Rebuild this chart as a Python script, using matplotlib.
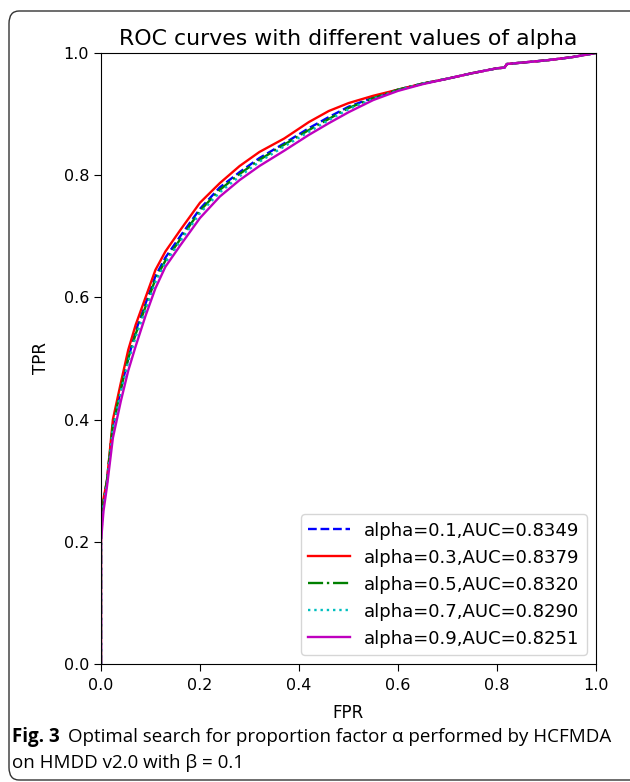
import matplotlib
matplotlib.use("Agg")
import matplotlib.pyplot as plt
from matplotlib.patches import FancyBboxPatch

# ---- data ----
fpr = [0, 0, 0.005, 0.012, 0.024, 0.04, 0.055, 0.07, 0.09, 0.11, 0.13, 0.16, 0.2, 0.24,
       0.28, 0.32, 0.37, 0.42, 0.46, 0.5, 0.55, 0.6, 0.65, 0.7, 0.75, 0.8, 0.815, 0.82,
       0.9, 0.95, 1.0]
tpr_a01 = [0, 0.22, 0.265, 0.30, 0.39, 0.45, 0.50, 0.545, 0.59, 0.635, 0.665, 0.70, 0.745,
           0.78, 0.805, 0.828, 0.852, 0.877, 0.895, 0.912, 0.927, 0.94, 0.95, 0.958, 0.967,
           0.975, 0.976, 0.982, 0.988, 0.993, 1.0]
tpr_a03 = [0, 0.23, 0.27, 0.30, 0.40, 0.46, 0.514, 0.555, 0.60, 0.645, 0.675, 0.71, 0.755,
           0.787, 0.815, 0.838, 0.86, 0.887, 0.905, 0.918, 0.93, 0.94, 0.95, 0.958, 0.967,
           0.975, 0.976, 0.982, 0.988, 0.993, 1.0]
tpr_a05 = [0, 0.22, 0.265, 0.30, 0.39, 0.45, 0.50, 0.54, 0.585, 0.63, 0.66, 0.695, 0.742,
           0.776, 0.802, 0.825, 0.85, 0.874, 0.892, 0.91, 0.926, 0.94, 0.95, 0.958, 0.967,
           0.975, 0.976, 0.982, 0.988, 0.993, 1.0]
tpr_a07 = [0, 0.21, 0.26, 0.295, 0.385, 0.445, 0.495, 0.535, 0.58, 0.625, 0.657, 0.692, 0.738,
           0.772, 0.798, 0.822, 0.847, 0.871, 0.89, 0.908, 0.925, 0.939, 0.95, 0.958, 0.967,
           0.975, 0.976, 0.982, 0.988, 0.993, 1.0]
tpr_a09 = [0, 0.20, 0.25, 0.29, 0.37, 0.43, 0.48, 0.52, 0.57, 0.615, 0.65, 0.685, 0.73,
           0.765, 0.792, 0.815, 0.84, 0.866, 0.885, 0.903, 0.923, 0.938, 0.949, 0.958, 0.967,
           0.975, 0.976, 0.982, 0.988, 0.993, 1.0]

labels = ["alpha=0.1,AUC=0.8349", "alpha=0.3,AUC=0.8379", "alpha=0.5,AUC=0.8320",
          "alpha=0.7,AUC=0.8290", "alpha=0.9,AUC=0.8251"]
series = [tpr_a01, tpr_a03, tpr_a05, tpr_a07, tpr_a09]
colors = ["b", "r", "g", "c", "m"]
styles = ["--", "-", "-.", ":", "-"]

W, H = 630, 782
fig = plt.figure(figsize=(W / 100, H / 100), dpi=100)
fs = 11.5

ax = fig.add_axes([101 / W, 1 - 664 / H, 495 / W, 611 / H])
for y, lab, c, ls in zip(series, labels, colors, styles):
    ax.plot(fpr, y, color=c, linestyle=ls, linewidth=1.7, label=lab)
ax.set_xlim(0, 1)
ax.set_ylim(0, 1)
ax.set_xticks([0, 0.2, 0.4, 0.6, 0.8, 1.0])
ax.set_yticks([0, 0.2, 0.4, 0.6, 0.8, 1.0])
ax.tick_params(labelsize=fs, length=5)
ax.tick_params(axis="x", pad=5)
ax.set_xlabel("FPR", fontsize=12, labelpad=8)
ax.set_ylabel("TPR", fontsize=12, labelpad=10)
ax.set_title("ROC curves with different values of alpha", fontsize=15.8, pad=6)
ax.legend(loc="lower right", fontsize=13, handlelength=2.3, borderaxespad=0.5)

# border box
box = FancyBboxPatch((9 / W, 2 / H), (W - 9) / W + 0.02, (H - 11) / H - 2 / H,
                     boxstyle="round,pad=0,rounding_size=0.016",
                     transform=fig.transFigure, fill=False, edgecolor="#333333",
                     linewidth=1.0, clip_on=False)
fig.patches.append(box)

# caption
cap_fs = 13.5
capfont = "Open Sans"
t1 = fig.text(12 / W, 1 - 737 / H, "Fig. 3", fontsize=cap_fs, fontweight="bold",
              family=capfont, va="center", ha="left")
fig.canvas.draw()
bb = t1.get_window_extent()
fig.text((bb.x1 + 8) / W, 1 - 737 / H,
         "Optimal search for proportion factor \u03b1 performed by HCFMDA",
         fontsize=cap_fs, family=capfont, va="center", ha="left")
fig.text(12 / W, 1 - 763 / H, "on HMDD v2.0 with \u03b2 = 0.1",
         fontsize=cap_fs, family=capfont, va="center", ha="left")

fig.savefig("out.png", dpi=100)
